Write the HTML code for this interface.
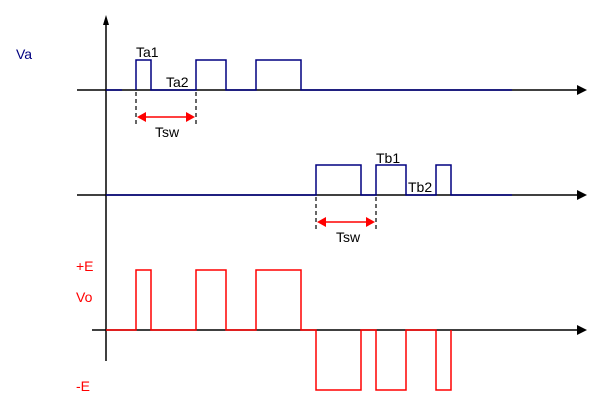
<!DOCTYPE html>
<html><head><style>html,body{margin:0;padding:0;background:#fff;}svg{display:block}</style></head><body>
<svg width="601" height="407" viewBox="0 0 601 407" xmlns="http://www.w3.org/2000/svg" font-family="Liberation Sans, sans-serif" font-size="14">
<g stroke="#000" stroke-width="1.5" fill="none">
<line x1="106" y1="24" x2="106" y2="361"/>
<line x1="77" y1="90" x2="578" y2="90"/>
<line x1="77" y1="195" x2="578" y2="195"/>
<line x1="92" y1="330" x2="578" y2="330"/>
</g>
<g fill="#000">
<polygon points="106,15 103,25 109,25"/>
<polygon points="587,90 577,85 577,95"/>
<polygon points="587,195 577,190 577,200"/>
<polygon points="587,330 577,325 577,335"/>
</g>
<g stroke="#000080" stroke-width="1.5" fill="none">
<polyline points="106,90 122,90"/>
<polyline points="136,90 136,60 151,60 151,90 196,90 196,60 226,60 226,90 256,90 256,60 301,60 301,90 512,90"/>
<polyline points="106,195 316,195 316,165 361,165 361,195 376,195 376,165 406,165 406,195 436,195 436,165 451,165 451,195 512,195"/>
</g>
<g stroke="#ff0000" stroke-width="1.5" fill="none">
<polyline points="106,330 136,330 136,270 151,270 151,330 196,330 196,270 226,270 226,330 256,330 256,270 301,270 301,330 316,330 316,390 361,390 361,330 376,330 376,390 406,390 406,330 436,330 436,390 451,390 451,330"/>
</g>
<g stroke="#000" stroke-width="1.2" stroke-dasharray="4,3">
<line x1="136" y1="92" x2="136" y2="126"/>
<line x1="196" y1="92" x2="196" y2="126"/>
<line x1="316" y1="197" x2="316" y2="231"/>
<line x1="376" y1="197" x2="376" y2="231"/>
</g>
<g stroke="#ff0000" stroke-width="1.5">
<line x1="142" y1="117" x2="190" y2="117"/>
<line x1="322" y1="222" x2="370" y2="222"/>
</g>
<g fill="#ff0000">
<polygon points="137,117 146,112 146,122"/>
<polygon points="195,117 186,112 186,122"/>
<polygon points="317,222 326,217 326,227"/>
<polygon points="375,222 366,217 366,227"/>
</g>
<g fill="#000">
<text x="136" y="57">Ta1</text>
<text x="166" y="87">Ta2</text>
<text x="155" y="137">Tsw</text>
<text x="376" y="163">Tb1</text>
<text x="408" y="192">Tb2</text>
<text x="336" y="242">Tsw</text>
</g>
<text x="16" y="59" fill="#000080">Va</text>
<g fill="#ff0000">
<text x="76" y="271">+E</text>
<text x="76" y="302">Vo</text>
<text x="76" y="391">-E</text>
</g>
</svg>
</body></html>
